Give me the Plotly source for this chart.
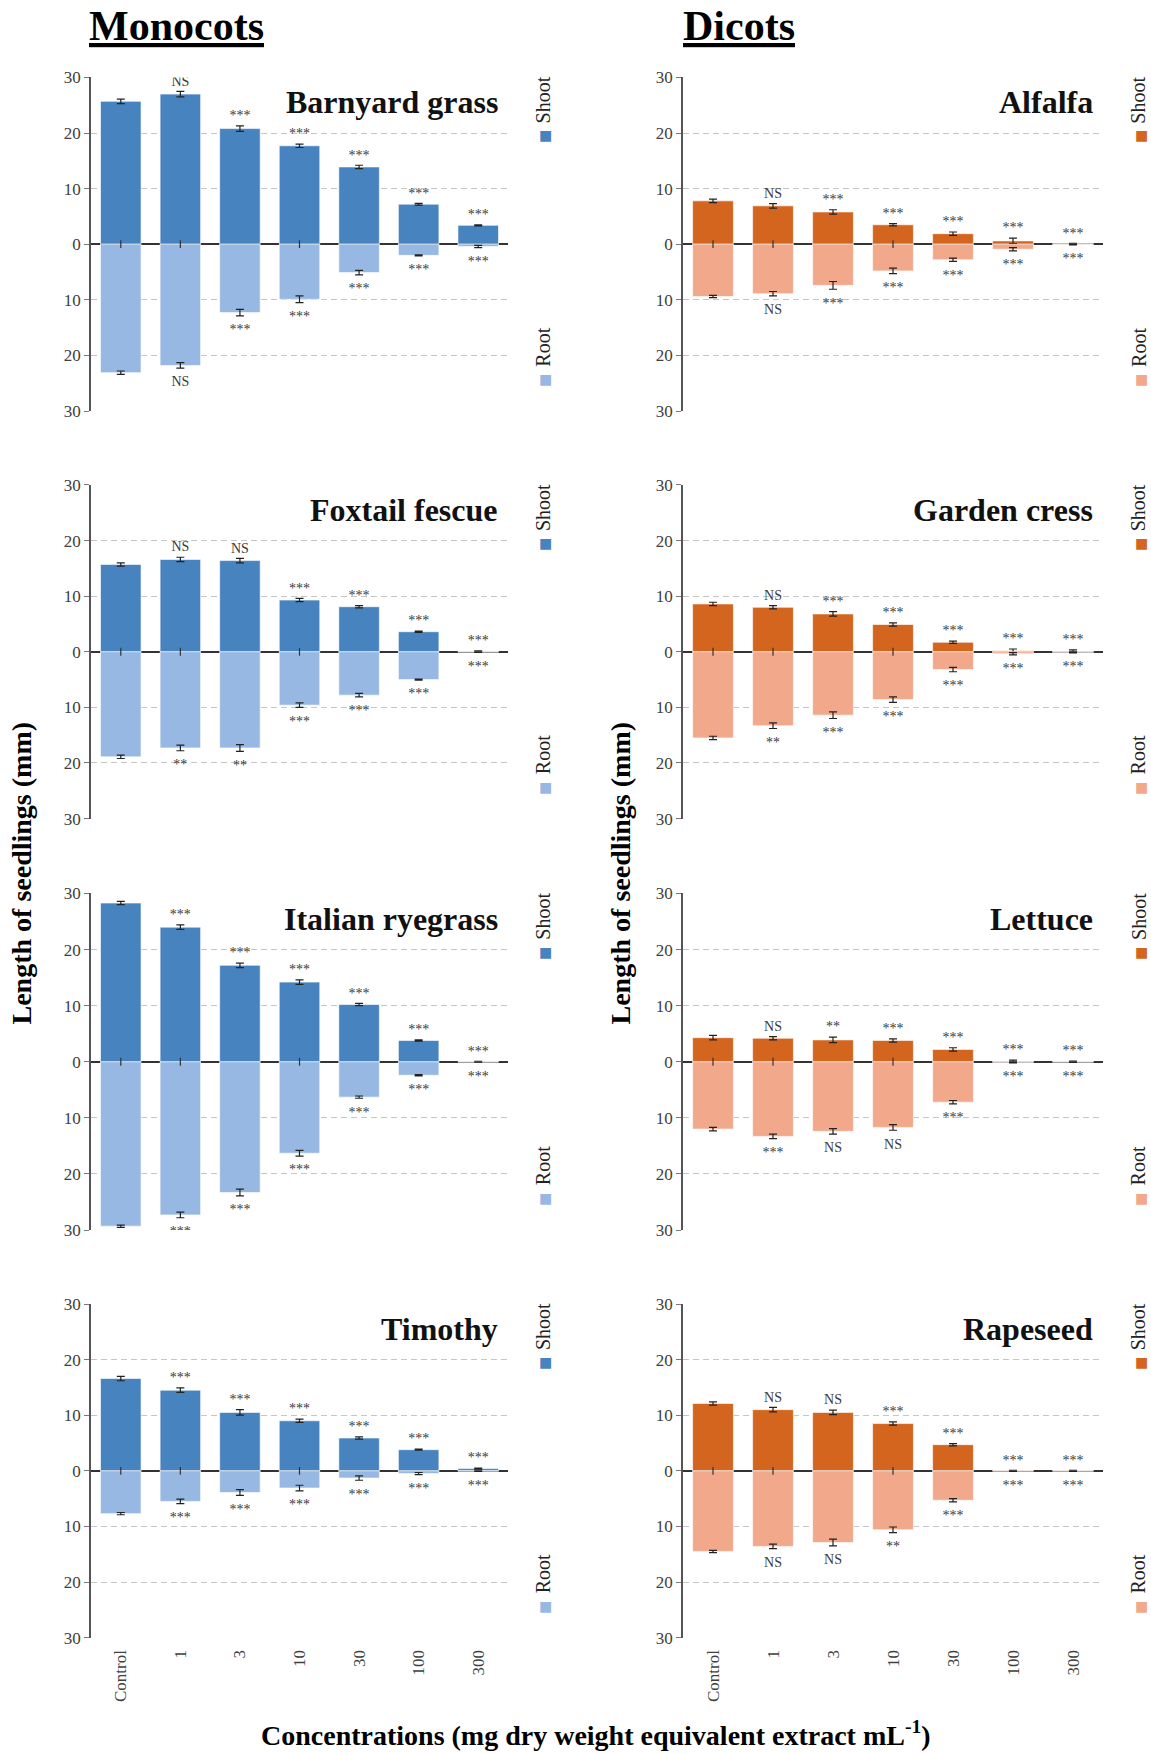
import plotly.graph_objects as go
from plotly.subplots import make_subplots

SERIF = "Liberation Serif"

categories = ["Control", "1", "3", "10", "30", "100", "300"]
tick_vals = [-30, -20, -10, 0, 10, 20, 30]
tick_text = ["30", "20", "10", "0", "10", "20", "30"]

# ---- Monocots ----
barnyard_shoot = [25.7, 27.0, 20.8, 17.7, 13.9, 7.2, 3.4]
barnyard_shoot_err = [0.4, 0.5, 0.5, 0.3, 0.3, 0.15, 0.1]
barnyard_root = [23.1, 21.8, 12.3, 9.9, 5.1, 2.0, 0.4]
barnyard_root_err = [0.3, 0.5, 0.6, 0.6, 0.4, 0.1, 0.2]
barnyard_shoot_sig = ["", "NS", "***", "***", "***", "***", "***"]
barnyard_root_sig = ["", "NS", "***", "***", "***", "***", "***"]

foxtail_shoot = [15.7, 16.6, 16.4, 9.3, 8.1, 3.6, 0.1]
foxtail_shoot_err = [0.3, 0.4, 0.4, 0.3, 0.2, 0.1, 0.05]
foxtail_root = [18.9, 17.3, 17.3, 9.6, 7.8, 5.0, 0.05]
foxtail_root_err = [0.3, 0.5, 0.6, 0.4, 0.3, 0.1, 0.05]
foxtail_shoot_sig = ["", "NS", "NS", "***", "***", "***", "***"]
foxtail_root_sig = ["", "**", "**", "***", "***", "***", "***"]

ryegrass_shoot = [28.3, 24.0, 17.2, 14.2, 10.2, 3.8, 0.05]
ryegrass_shoot_err = [0.3, 0.4, 0.4, 0.4, 0.2, 0.1, 0.02]
ryegrass_root = [29.3, 27.3, 23.3, 16.3, 6.3, 2.4, 0.05]
ryegrass_root_err = [0.2, 0.5, 0.6, 0.5, 0.2, 0.1, 0.02]
ryegrass_shoot_sig = ["", "***", "***", "***", "***", "***", "***"]
ryegrass_root_sig = ["", "***", "***", "***", "***", "***", "***"]

timothy_shoot = [16.6, 14.5, 10.5, 9.0, 5.9, 3.8, 0.4]
timothy_shoot_err = [0.4, 0.4, 0.5, 0.3, 0.2, 0.1, 0.1]
timothy_root = [7.7, 5.5, 3.9, 3.1, 1.3, 0.5, 0.05]
timothy_root_err = [0.2, 0.4, 0.5, 0.5, 0.4, 0.2, 0.05]
timothy_shoot_sig = ["", "***", "***", "***", "***", "***", "***"]
timothy_root_sig = ["", "***", "***", "***", "***", "***", "***"]

# ---- Dicots ----
alfalfa_shoot = [7.8, 6.9, 5.8, 3.5, 1.9, 0.6, 0.1]
alfalfa_shoot_err = [0.3, 0.4, 0.4, 0.2, 0.3, 0.5, 0.05]
alfalfa_root = [9.4, 8.9, 7.4, 4.8, 2.8, 0.9, 0.05]
alfalfa_root_err = [0.2, 0.4, 0.7, 0.5, 0.3, 0.3, 0.05]
alfalfa_shoot_sig = ["", "NS", "***", "***", "***", "***", "***"]
alfalfa_root_sig = ["", "NS", "***", "***", "***", "***", "***"]

cress_shoot = [8.6, 8.0, 6.8, 4.9, 1.7, 0.2, 0.15]
cress_shoot_err = [0.3, 0.3, 0.4, 0.3, 0.2, 0.3, 0.2]
cress_root = [15.5, 13.3, 11.4, 8.6, 3.2, 0.35, 0.1]
cress_root_err = [0.3, 0.5, 0.6, 0.5, 0.4, 0.2, 0.1]
cress_shoot_sig = ["", "NS", "***", "***", "***", "***", "***"]
cress_root_sig = ["", "**", "***", "***", "***", "***", "***"]

lettuce_shoot = [4.3, 4.2, 3.9, 3.8, 2.2, 0.1, 0.05]
lettuce_shoot_err = [0.4, 0.3, 0.5, 0.3, 0.3, 0.2, 0.05]
lettuce_root = [12.0, 13.3, 12.4, 11.7, 7.2, 0.1, 0.05]
lettuce_root_err = [0.3, 0.4, 0.5, 0.5, 0.3, 0.1, 0.05]
lettuce_shoot_sig = ["", "NS", "**", "***", "***", "***", "***"]
lettuce_root_sig = ["", "***", "NS", "NS", "***", "***", "***"]

rapeseed_shoot = [12.1, 11.0, 10.5, 8.5, 4.7, 0.05, 0.05]
rapeseed_shoot_err = [0.3, 0.4, 0.4, 0.3, 0.2, 0.05, 0.05]
rapeseed_root = [14.5, 13.6, 12.9, 10.6, 5.3, 0.05, 0.05]
rapeseed_root_err = [0.2, 0.4, 0.6, 0.5, 0.3, 0.05, 0.05]
rapeseed_shoot_sig = ["", "NS", "NS", "***", "***", "***", "***"]
rapeseed_root_sig = ["", "NS", "NS", "**", "***", "***", "***"]

MONO_SHOOT, MONO_ROOT = "#4783bf", "#97b8e2"
DI_SHOOT, DI_ROOT = "#d4651f", "#f2a98b"

panels = [
    ("Barnyard grass", 1, 1, MONO_SHOOT, MONO_ROOT, barnyard_shoot, barnyard_shoot_err, barnyard_root, barnyard_root_err, barnyard_shoot_sig, barnyard_root_sig),
    ("Alfalfa", 1, 2, DI_SHOOT, DI_ROOT, alfalfa_shoot, alfalfa_shoot_err, alfalfa_root, alfalfa_root_err, alfalfa_shoot_sig, alfalfa_root_sig),
    ("Foxtail fescue", 2, 1, MONO_SHOOT, MONO_ROOT, foxtail_shoot, foxtail_shoot_err, foxtail_root, foxtail_root_err, foxtail_shoot_sig, foxtail_root_sig),
    ("Garden cress", 2, 2, DI_SHOOT, DI_ROOT, cress_shoot, cress_shoot_err, cress_root, cress_root_err, cress_shoot_sig, cress_root_sig),
    ("Italian ryegrass", 3, 1, MONO_SHOOT, MONO_ROOT, ryegrass_shoot, ryegrass_shoot_err, ryegrass_root, ryegrass_root_err, ryegrass_shoot_sig, ryegrass_root_sig),
    ("Lettuce", 3, 2, DI_SHOOT, DI_ROOT, lettuce_shoot, lettuce_shoot_err, lettuce_root, lettuce_root_err, lettuce_shoot_sig, lettuce_root_sig),
    ("Timothy", 4, 1, MONO_SHOOT, MONO_ROOT, timothy_shoot, timothy_shoot_err, timothy_root, timothy_root_err, timothy_shoot_sig, timothy_root_sig),
    ("Rapeseed", 4, 2, DI_SHOOT, DI_ROOT, rapeseed_shoot, rapeseed_shoot_err, rapeseed_root, rapeseed_root_err, rapeseed_shoot_sig, rapeseed_root_sig),
]

W, H = 1151, 1753
# the photographed page places the plotting paper at ~8.5px .. ~1744.5px vertically
Y_OFF, Y_SPAN = 8.5, 1736.0
SIG_GAP_UP, SIG_GAP_DOWN = 0.4, 1.4   # extra spacing (data units) between error bar and label


def xp(px):
    return px / W


def yp(px):
    return 1 - (px - Y_OFF) / Y_SPAN


col_px = {1: (91, 508), 2: (683, 1103)}
row_px = {1: (77, 411), 2: (485, 819), 3: (894, 1231), 4: (1305, 1639)}

fig = make_subplots(rows=4, cols=2)


def keep(xs, ys, ts):
    sel = [(x, y, t) for x, y, t in zip(xs, ys, ts) if t]
    return [s[0] for s in sel], [s[1] for s in sel], [s[2] for s in sel]


for (name, r, c, cs, cr, shoot, s_err, root, r_err, s_sig, r_sig) in panels:
    idx = (r - 1) * 2 + c
    sfx = "" if idx == 1 else str(idx)
    fig.add_trace(go.Bar(
        x=categories, y=shoot, name="Shoot", showlegend=False,
        marker=dict(color=cs, line=dict(color="rgba(255,255,255,0.6)", width=1)),
        error_y=dict(type="data", array=s_err, color="#222", thickness=1.2, width=4),
    ), row=r, col=c)
    fig.add_trace(go.Bar(
        x=categories, y=[-v for v in root], name="Root", showlegend=False,
        marker=dict(color=cr, line=dict(color="rgba(255,255,255,0.6)", width=1)),
        error_y=dict(type="data", array=r_err, color="#222", thickness=1.2, width=4),
    ), row=r, col=c)
    sx, sy, st = keep(categories, [v + e + SIG_GAP_UP for v, e in zip(shoot, s_err)], s_sig)
    fig.add_trace(go.Scatter(
        x=sx, y=sy, mode="text", text=st, textposition="top center", showlegend=False,
        textfont=dict(family=SERIF, size=14, color="#3a3a3a"),
    ), row=r, col=c)
    rx, ry, rt = keep(categories, [-(v + e + SIG_GAP_DOWN) for v, e in zip(root, r_err)], r_sig)
    fig.add_trace(go.Scatter(
        x=rx, y=ry, mode="text", text=rt, textposition="bottom center", showlegend=False,
        textfont=dict(family=SERIF, size=14, color="#3a3a3a"),
    ), row=r, col=c)

    x0, x1 = col_px[c]
    y0, y1 = row_px[r]
    fig.update_xaxes(
        domain=[xp(x0), xp(x1)], type="category", range=[-0.5, 6.5],
        showgrid=False, showline=False, zeroline=False, ticks="",
        showticklabels=(r == 4), tickangle=-90, ticklabelstandoff=8,
        tickfont=dict(family=SERIF, size=17, color="#404040"),
        row=r, col=c,
    )
    fig.update_yaxes(
        domain=[yp(y1), yp(y0)], range=[-30, 30],
        tickvals=tick_vals, ticktext=tick_text,
        showgrid=True, gridcolor="#c6c6c6", griddash="6px,4px", gridwidth=1.4,
        zeroline=True, zerolinecolor="#333", zerolinewidth=1.6,
        showline=True, linecolor="#555", linewidth=1.5,
        ticks="outside", ticklen=5, tickcolor="#777", tickwidth=1.2,
        tickfont=dict(family=SERIF, size=17, color="#404040"),
        row=r, col=c,
    )
    # category tick marks crossing the zero line
    for cat in categories:
        fig.add_shape(type="line", xref=f"x{sfx}", yref=f"y{sfx}",
                      x0=cat, x1=cat, y0=-0.7, y1=0.7,
                      line=dict(color="#333", width=1.2))
    # panel title
    fig.add_annotation(text=f"<b>{name}</b>", xref=f"x{sfx} domain", yref=f"y{sfx} domain",
                       x=0.981, y=0.985, xanchor="right", yanchor="top", showarrow=False,
                       font=dict(family=SERIF, size=32, color="#111"))
    # legend (rotated)
    for lab, col, ty, my in (("Shoot", cs, 0.931, 0.826), ("Root", cr, 0.19, 0.096)):
        fig.add_annotation(text=lab, xref=f"x{sfx} domain", yref=f"y{sfx} domain",
                           x=1.084, y=ty, xanchor="center", yanchor="middle",
                           textangle=-90, showarrow=False,
                           font=dict(family=SERIF, size=20, color="#222"))
        fig.add_annotation(text="■", xref=f"x{sfx} domain", yref=f"y{sfx} domain",
                           x=1.091, y=my, xanchor="center", yanchor="middle", showarrow=False,
                           font=dict(family="DejaVu Sans", size=14, color=col))

# headers
for txt, xc in (("Monocots", 176), ("Dicots", 739)):
    fig.add_annotation(text=f"<b><u>{txt}</u></b>", xref="paper", yref="paper",
                       x=xp(xc), y=yp(26), xanchor="center", yanchor="middle",
                       showarrow=False, font=dict(family=SERIF, size=42, color="#000"))
# axis titles
for xc in (22, 621):
    fig.add_annotation(text="<b>Length of seedlings (mm)</b>", xref="paper", yref="paper",
                       x=xp(xc), y=yp(874), xanchor="center", yanchor="middle",
                       textangle=-90, showarrow=False,
                       font=dict(family=SERIF, size=28, color="#000"))
fig.add_annotation(text="<b>Concentrations (mg dry weight equivalent extract mL<sup>-1</sup>)</b>",
                   xref="paper", yref="paper", x=xp(596), y=yp(1735),
                   xanchor="center", yanchor="middle", showarrow=False,
                   font=dict(family=SERIF, size=28, color="#000"))

fig.update_layout(
    width=W, height=H, margin=dict(l=0, r=0, t=0, b=0),
    paper_bgcolor="white", plot_bgcolor="white",
    barmode="relative", bargap=0.32, showlegend=False,
)

fig.write_html("out.html", config={"displayModeBar": False},
               post_script="document.body.style.margin='0';document.body.style.overflow='hidden';")
